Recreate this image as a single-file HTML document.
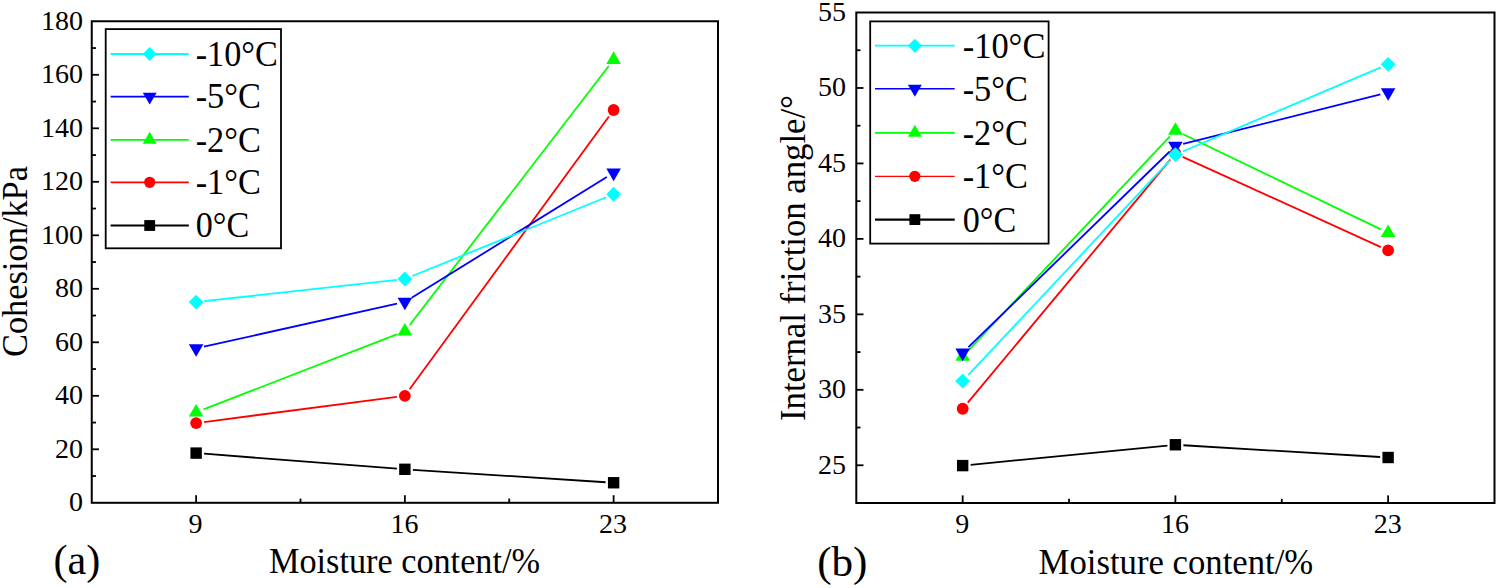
<!DOCTYPE html>
<html><head><meta charset="utf-8"><style>
html,body{margin:0;padding:0;background:#fff;}
body{width:1498px;height:588px;overflow:hidden;}
svg{display:block;}
text{font-family:"Liberation Serif",serif;fill:#000;}
</style></head><body>
<svg width="1498" height="588" viewBox="0 0 1498 588">
<rect width="1498" height="588" fill="#fff"/>
<text x="83.00" y="511.10" font-size="28" text-anchor="end">0</text>
<line x1="91.75" y1="449.30" x2="98.95" y2="449.30" stroke="#000" stroke-width="1.8"/>
<text x="83.00" y="457.60" font-size="28" text-anchor="end">20</text>
<line x1="91.75" y1="395.80" x2="98.95" y2="395.80" stroke="#000" stroke-width="1.8"/>
<text x="83.00" y="404.10" font-size="28" text-anchor="end">40</text>
<line x1="91.75" y1="342.30" x2="98.95" y2="342.30" stroke="#000" stroke-width="1.8"/>
<text x="83.00" y="350.60" font-size="28" text-anchor="end">60</text>
<line x1="91.75" y1="288.80" x2="98.95" y2="288.80" stroke="#000" stroke-width="1.8"/>
<text x="83.00" y="297.10" font-size="28" text-anchor="end">80</text>
<line x1="91.75" y1="235.30" x2="98.95" y2="235.30" stroke="#000" stroke-width="1.8"/>
<text x="83.00" y="243.60" font-size="28" text-anchor="end">100</text>
<line x1="91.75" y1="181.80" x2="98.95" y2="181.80" stroke="#000" stroke-width="1.8"/>
<text x="83.00" y="190.10" font-size="28" text-anchor="end">120</text>
<line x1="91.75" y1="128.30" x2="98.95" y2="128.30" stroke="#000" stroke-width="1.8"/>
<text x="83.00" y="136.60" font-size="28" text-anchor="end">140</text>
<line x1="91.75" y1="74.80" x2="98.95" y2="74.80" stroke="#000" stroke-width="1.8"/>
<text x="83.00" y="83.10" font-size="28" text-anchor="end">160</text>
<text x="83.00" y="29.60" font-size="28" text-anchor="end">180</text>
<line x1="91.75" y1="476.05" x2="95.95" y2="476.05" stroke="#000" stroke-width="1.8"/>
<line x1="91.75" y1="422.55" x2="95.95" y2="422.55" stroke="#000" stroke-width="1.8"/>
<line x1="91.75" y1="369.05" x2="95.95" y2="369.05" stroke="#000" stroke-width="1.8"/>
<line x1="91.75" y1="315.55" x2="95.95" y2="315.55" stroke="#000" stroke-width="1.8"/>
<line x1="91.75" y1="262.05" x2="95.95" y2="262.05" stroke="#000" stroke-width="1.8"/>
<line x1="91.75" y1="208.55" x2="95.95" y2="208.55" stroke="#000" stroke-width="1.8"/>
<line x1="91.75" y1="155.05" x2="95.95" y2="155.05" stroke="#000" stroke-width="1.8"/>
<line x1="91.75" y1="101.55" x2="95.95" y2="101.55" stroke="#000" stroke-width="1.8"/>
<line x1="91.75" y1="48.05" x2="95.95" y2="48.05" stroke="#000" stroke-width="1.8"/>
<line x1="196.12" y1="502.80" x2="196.12" y2="495.20" stroke="#000" stroke-width="1.8"/>
<text x="195.62" y="533.2" font-size="28" text-anchor="middle">9</text>
<line x1="404.88" y1="502.80" x2="404.88" y2="495.20" stroke="#000" stroke-width="1.8"/>
<text x="404.38" y="533.2" font-size="28" text-anchor="middle">16</text>
<line x1="613.62" y1="502.80" x2="613.62" y2="495.20" stroke="#000" stroke-width="1.8"/>
<text x="613.12" y="533.2" font-size="28" text-anchor="middle">23</text>
<line x1="300.50" y1="502.80" x2="300.50" y2="498.60" stroke="#000" stroke-width="1.8"/>
<line x1="509.25" y1="502.80" x2="509.25" y2="498.60" stroke="#000" stroke-width="1.8"/>
<rect x="91.75" y="21.25" width="626.25" height="481.55" fill="none" stroke="#000" stroke-width="2"/>
<line x1="204.10" y1="453.72" x2="396.90" y2="468.68" stroke="#000000" stroke-width="1.8"/>
<line x1="412.86" y1="469.81" x2="605.64" y2="482.24" stroke="#000000" stroke-width="1.8"/>
<rect x="190.43" y="447.40" width="11.40" height="11.40" fill="#000000"/>
<rect x="399.18" y="463.60" width="11.40" height="11.40" fill="#000000"/>
<rect x="607.92" y="477.05" width="11.40" height="11.40" fill="#000000"/>
<line x1="204.06" y1="422.06" x2="396.94" y2="396.84" stroke="#ff0000" stroke-width="1.8"/>
<line x1="409.59" y1="389.34" x2="608.91" y2="116.46" stroke="#ff0000" stroke-width="1.8"/>
<circle cx="196.12" cy="423.10" r="5.90" fill="#ff0000"/>
<circle cx="404.88" cy="395.80" r="5.90" fill="#ff0000"/>
<circle cx="613.62" cy="110.00" r="5.90" fill="#ff0000"/>
<line x1="203.58" y1="409.41" x2="397.42" y2="334.19" stroke="#00ff00" stroke-width="1.8"/>
<line x1="409.75" y1="324.96" x2="608.75" y2="66.04" stroke="#00ff00" stroke-width="1.8"/>
<polygon points="188.82,416.48 203.43,416.48 196.12,403.95" fill="#00ff00"/>
<polygon points="397.57,335.48 412.18,335.48 404.88,322.95" fill="#00ff00"/>
<polygon points="606.33,63.88 620.92,63.88 613.62,51.35" fill="#00ff00"/>
<line x1="203.93" y1="346.66" x2="397.07" y2="303.74" stroke="#0000ff" stroke-width="1.8"/>
<line x1="411.68" y1="297.79" x2="606.82" y2="177.01" stroke="#0000ff" stroke-width="1.8"/>
<polygon points="188.82,344.22 203.43,344.22 196.12,356.75" fill="#0000ff"/>
<polygon points="397.57,297.82 412.18,297.82 404.88,310.35" fill="#0000ff"/>
<polygon points="606.33,168.62 620.92,168.62 613.62,181.15" fill="#0000ff"/>
<line x1="204.08" y1="301.22" x2="396.92" y2="279.88" stroke="#00ffff" stroke-width="1.8"/>
<line x1="412.29" y1="275.99" x2="606.21" y2="197.26" stroke="#00ffff" stroke-width="1.8"/>
<polygon points="196.12,294.70 203.53,302.10 196.12,309.50 188.72,302.10" fill="#00ffff"/>
<polygon points="404.88,271.60 412.27,279.00 404.88,286.40 397.48,279.00" fill="#00ffff"/>
<polygon points="613.62,186.85 621.02,194.25 613.62,201.65 606.23,194.25" fill="#00ffff"/>
<rect x="105.70" y="29.10" width="175.30" height="219.20" fill="#fff" stroke="#000" stroke-width="1.8"/>
<line x1="110.60" y1="54.00" x2="188.80" y2="54.00" stroke="#00ffff" stroke-width="2.0"/>
<polygon points="149.70,46.97 156.73,54.00 149.70,61.03 142.67,54.00" fill="#00ffff"/>
<text x="195.70" y="65.70" font-size="35" textLength="82.00" lengthAdjust="spacingAndGlyphs">-10°C</text>
<line x1="110.60" y1="96.60" x2="188.80" y2="96.60" stroke="#0000ff" stroke-width="1.7"/>
<polygon points="142.76,92.63 156.63,92.63 149.70,104.53" fill="#0000ff"/>
<text x="195.70" y="108.30" font-size="35" textLength="65.20" lengthAdjust="spacingAndGlyphs">-5°C</text>
<line x1="110.60" y1="139.80" x2="188.80" y2="139.80" stroke="#00ff00" stroke-width="1.8"/>
<polygon points="142.76,143.77 156.63,143.77 149.70,131.87" fill="#00ff00"/>
<text x="195.70" y="151.50" font-size="35" textLength="65.20" lengthAdjust="spacingAndGlyphs">-2°C</text>
<line x1="110.60" y1="182.30" x2="188.80" y2="182.30" stroke="#ff0000" stroke-width="1.7"/>
<circle cx="149.70" cy="182.30" r="5.61" fill="#ff0000"/>
<text x="195.70" y="194.00" font-size="35" textLength="65.20" lengthAdjust="spacingAndGlyphs">-1°C</text>
<line x1="110.60" y1="225.50" x2="188.80" y2="225.50" stroke="#000000" stroke-width="1.9"/>
<rect x="144.28" y="220.09" width="10.83" height="10.83" fill="#000000"/>
<text x="195.70" y="237.20" font-size="35" textLength="53.50" lengthAdjust="spacingAndGlyphs">0°C</text>
<text x="269.00" y="572.70" font-size="35" textLength="271.00" lengthAdjust="spacingAndGlyphs">Moisture content/%</text>
<text transform="translate(27.00,357.00) rotate(-90)" font-size="35" textLength="191.00" lengthAdjust="spacingAndGlyphs">Cohesion/kPa</text>
<text x="53.40" y="573.80" font-size="41.2" textLength="46.80" lengthAdjust="spacingAndGlyphs">(a)</text>
<line x1="856.30" y1="465.27" x2="863.50" y2="465.27" stroke="#000" stroke-width="1.8"/>
<text x="846.00" y="473.57" font-size="28" text-anchor="end">25</text>
<line x1="856.30" y1="389.81" x2="863.50" y2="389.81" stroke="#000" stroke-width="1.8"/>
<text x="846.00" y="398.11" font-size="28" text-anchor="end">30</text>
<line x1="856.30" y1="314.35" x2="863.50" y2="314.35" stroke="#000" stroke-width="1.8"/>
<text x="846.00" y="322.65" font-size="28" text-anchor="end">35</text>
<line x1="856.30" y1="238.89" x2="863.50" y2="238.89" stroke="#000" stroke-width="1.8"/>
<text x="846.00" y="247.19" font-size="28" text-anchor="end">40</text>
<line x1="856.30" y1="163.43" x2="863.50" y2="163.43" stroke="#000" stroke-width="1.8"/>
<text x="846.00" y="171.73" font-size="28" text-anchor="end">45</text>
<line x1="856.30" y1="87.97" x2="863.50" y2="87.97" stroke="#000" stroke-width="1.8"/>
<text x="846.00" y="96.27" font-size="28" text-anchor="end">50</text>
<text x="846.00" y="20.81" font-size="28" text-anchor="end">55</text>
<line x1="856.30" y1="427.54" x2="860.50" y2="427.54" stroke="#000" stroke-width="1.8"/>
<line x1="856.30" y1="352.08" x2="860.50" y2="352.08" stroke="#000" stroke-width="1.8"/>
<line x1="856.30" y1="276.62" x2="860.50" y2="276.62" stroke="#000" stroke-width="1.8"/>
<line x1="856.30" y1="201.16" x2="860.50" y2="201.16" stroke="#000" stroke-width="1.8"/>
<line x1="856.30" y1="125.70" x2="860.50" y2="125.70" stroke="#000" stroke-width="1.8"/>
<line x1="856.30" y1="50.24" x2="860.50" y2="50.24" stroke="#000" stroke-width="1.8"/>
<line x1="962.67" y1="503.00" x2="962.67" y2="495.40" stroke="#000" stroke-width="1.8"/>
<text x="962.17" y="533.2" font-size="28" text-anchor="middle">9</text>
<line x1="1175.40" y1="503.00" x2="1175.40" y2="495.40" stroke="#000" stroke-width="1.8"/>
<text x="1174.90" y="533.2" font-size="28" text-anchor="middle">16</text>
<line x1="1388.13" y1="503.00" x2="1388.13" y2="495.40" stroke="#000" stroke-width="1.8"/>
<text x="1387.63" y="533.2" font-size="28" text-anchor="middle">23</text>
<line x1="1069.03" y1="503.00" x2="1069.03" y2="498.80" stroke="#000" stroke-width="1.8"/>
<line x1="1281.77" y1="503.00" x2="1281.77" y2="498.80" stroke="#000" stroke-width="1.8"/>
<rect x="856.30" y="12.50" width="638.20" height="490.50" fill="none" stroke="#000" stroke-width="2"/>
<line x1="970.63" y1="464.82" x2="1167.44" y2="445.53" stroke="#000000" stroke-width="1.8"/>
<line x1="1183.39" y1="445.23" x2="1380.15" y2="457.02" stroke="#000000" stroke-width="1.8"/>
<rect x="956.97" y="459.90" width="11.40" height="11.40" fill="#000000"/>
<rect x="1169.70" y="439.05" width="11.40" height="11.40" fill="#000000"/>
<rect x="1382.43" y="451.80" width="11.40" height="11.40" fill="#000000"/>
<line x1="967.79" y1="402.60" x2="1170.28" y2="159.65" stroke="#ff0000" stroke-width="1.8"/>
<line x1="1182.68" y1="156.82" x2="1380.85" y2="247.08" stroke="#ff0000" stroke-width="1.8"/>
<circle cx="962.67" cy="408.75" r="5.90" fill="#ff0000"/>
<circle cx="1175.40" cy="153.50" r="5.90" fill="#ff0000"/>
<circle cx="1388.13" cy="250.40" r="5.90" fill="#ff0000"/>
<line x1="968.15" y1="350.77" x2="1169.92" y2="136.33" stroke="#00ff00" stroke-width="1.8"/>
<line x1="1182.61" y1="133.97" x2="1380.92" y2="229.33" stroke="#00ff00" stroke-width="1.8"/>
<polygon points="955.37,360.78 969.97,360.78 962.67,348.25" fill="#00ff00"/>
<polygon points="1168.10,134.68 1182.70,134.68 1175.40,122.15" fill="#00ff00"/>
<polygon points="1380.83,236.98 1395.43,236.98 1388.13,224.45" fill="#00ff00"/>
<line x1="968.40" y1="347.22" x2="1169.67" y2="151.48" stroke="#0000ff" stroke-width="1.8"/>
<line x1="1183.16" y1="143.95" x2="1380.37" y2="94.45" stroke="#0000ff" stroke-width="1.8"/>
<polygon points="955.37,348.62 969.97,348.62 962.67,361.15" fill="#0000ff"/>
<polygon points="1168.10,141.72 1182.70,141.72 1175.40,154.25" fill="#0000ff"/>
<polygon points="1380.83,88.33 1395.43,88.33 1388.13,100.85" fill="#0000ff"/>
<line x1="968.14" y1="375.17" x2="1169.92" y2="160.43" stroke="#00ffff" stroke-width="1.8"/>
<line x1="1182.76" y1="151.47" x2="1380.77" y2="67.43" stroke="#00ffff" stroke-width="1.8"/>
<polygon points="962.67,373.60 970.07,381.00 962.67,388.40 955.27,381.00" fill="#00ffff"/>
<polygon points="1175.40,147.20 1182.80,154.60 1175.40,162.00 1168.00,154.60" fill="#00ffff"/>
<polygon points="1388.13,56.90 1395.53,64.30 1388.13,71.70 1380.73,64.30" fill="#00ffff"/>
<rect x="870.20" y="21.40" width="178.40" height="222.20" fill="#fff" stroke="#000" stroke-width="1.8"/>
<line x1="875.00" y1="45.70" x2="954.70" y2="45.70" stroke="#00ffff" stroke-width="1.8"/>
<polygon points="914.85,38.67 921.88,45.70 914.85,52.73 907.82,45.70" fill="#00ffff"/>
<text x="962.70" y="57.70" font-size="35" textLength="82.70" lengthAdjust="spacingAndGlyphs">-10°C</text>
<line x1="875.00" y1="88.80" x2="954.70" y2="88.80" stroke="#0000ff" stroke-width="1.5"/>
<polygon points="907.92,84.83 921.78,84.83 914.85,96.73" fill="#0000ff"/>
<text x="962.70" y="100.80" font-size="35" textLength="65.20" lengthAdjust="spacingAndGlyphs">-5°C</text>
<line x1="875.00" y1="132.80" x2="954.70" y2="132.80" stroke="#00ff00" stroke-width="1.8"/>
<polygon points="907.92,136.77 921.78,136.77 914.85,124.87" fill="#00ff00"/>
<text x="962.70" y="144.80" font-size="35" textLength="65.20" lengthAdjust="spacingAndGlyphs">-2°C</text>
<line x1="875.00" y1="176.30" x2="954.70" y2="176.30" stroke="#ff0000" stroke-width="1.3"/>
<circle cx="914.85" cy="176.30" r="5.61" fill="#ff0000"/>
<text x="962.70" y="188.30" font-size="35" textLength="65.20" lengthAdjust="spacingAndGlyphs">-1°C</text>
<line x1="875.00" y1="219.60" x2="954.70" y2="219.60" stroke="#000000" stroke-width="2.2"/>
<rect x="909.44" y="214.19" width="10.83" height="10.83" fill="#000000"/>
<text x="962.70" y="231.60" font-size="35" textLength="53.50" lengthAdjust="spacingAndGlyphs">0°C</text>
<text x="1038.60" y="573.70" font-size="35" textLength="274.60" lengthAdjust="spacingAndGlyphs">Moisture content/%</text>
<text transform="translate(804.70,421.00) rotate(-90)" font-size="35" textLength="326.00" lengthAdjust="spacingAndGlyphs">Internal friction angle/°</text>
<text x="817.20" y="575.70" font-size="41.2" textLength="50.30" lengthAdjust="spacingAndGlyphs">(b)</text>
</svg>
</body></html>
